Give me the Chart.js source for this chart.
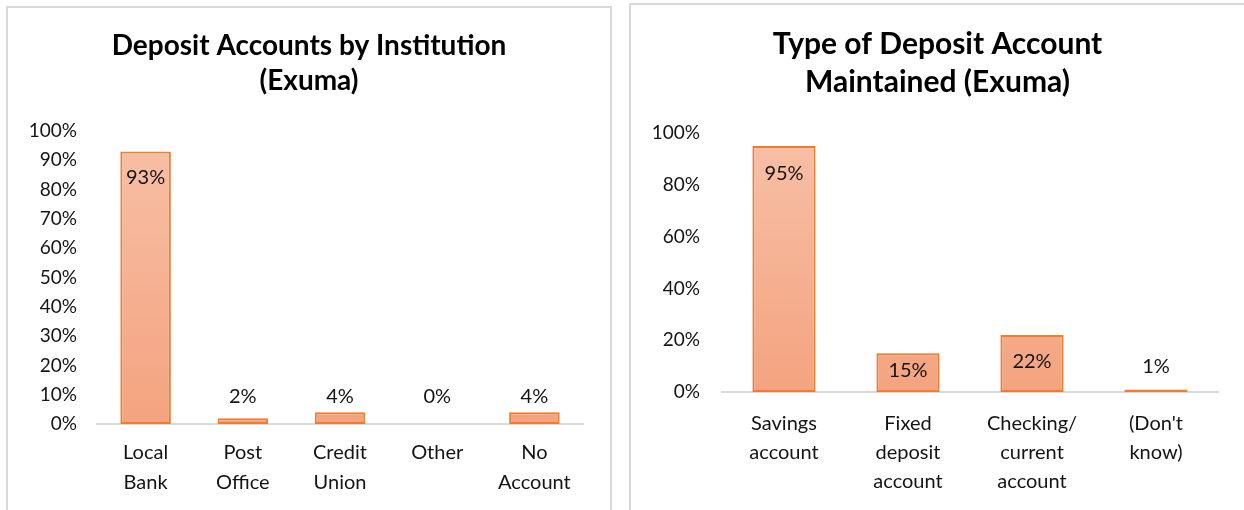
<!DOCTYPE html>
<html>
<head>
<meta charset="utf-8">
<script src="https://cdn.jsdelivr.net/npm/chart.js@4.4.1/dist/chart.umd.min.js"></script>
<style>
  body { margin: 0; background: #fff; width: 1244px; height: 510px; overflow: hidden; position: relative; }
  .panel { position: absolute; border: 2px solid #d9d9d9; box-sizing: border-box; background: #fff; }
  #panel1 { left: 6px; top: 6px; width: 606px; height: 520px; }
  #panel2 { left: 629px; top: 3px; width: 630px; height: 520px; }
  canvas { display: block; }
</style>
</head>
<body>
<div class="panel" id="panel1"><canvas id="institution-chart" width="602" height="502"></canvas></div>
<div class="panel" id="panel2"><canvas id="type-chart" width="613" height="505"></canvas></div>
<script>
const institutionLabels = [["Local", "Bank"], ["Post", "Office"], ["Credit", "Union"], ["Other"], ["No", "Account"]];
const institutionValues = [0.93, 0.02, 0.04, 0.00, 0.04];
const institutionTicks = [0, 0.1, 0.2, 0.3, 0.4, 0.5, 0.6, 0.7, 0.8, 0.9, 1.0];

const typeLabels = [["Savings", "account"], ["Fixed", "deposit", "account"], ["Checking/", "current", "account"], ["(Don't", "know)"]];
const typeValues = [0.95, 0.15, 0.22, 0.01];
const typeTicks = [0, 0.2, 0.4, 0.6, 0.8, 1.0];

const FONT = "Lato, 'Open Sans', sans-serif";
const TEXT = "#141414";

// draws the value labels the way Excel placed them
const barLabels = {
  id: "barLabels",
  afterDatasetsDraw(chart, args, opts) {
    const ctx = chart.ctx;
    const meta = chart.getDatasetMeta(0);
    const values = chart.data.datasets[0].data;
    ctx.save();
    ctx.font = `${opts.size}px ${FONT}`;
    ctx.fillStyle = TEXT;
    ctx.textAlign = "center";
    ctx.textBaseline = "middle";
    meta.data.forEach((bar, i) => {
      const v = values[i];
      let y;
      if (v >= 0.1) {
        y = Math.min(bar.y + opts.inside, (bar.y + bar.base) / 2 - 2);
      } else {
        y = Math.min(bar.y - 15, bar.base - opts.outside);
      }
      ctx.fillText(Math.round(v * 100) + "%", bar.x, y);
    });
    ctx.restore();
  },
};

function barFill(context) {
  const area = context.chart.chartArea;
  if (!area) return "#f5b090";
  const g = context.chart.ctx.createLinearGradient(0, area.top, 0, area.bottom);
  g.addColorStop(0, "#f7c0a7");
  g.addColorStop(1, "#f4a37f");
  return g;
}

function makeChart(id, cfg) {
  return new Chart(document.getElementById(id), {
    type: "bar",
    data: {
      labels: cfg.labels,
      datasets: [{
        data: cfg.values,
        backgroundColor: barFill,
        borderColor: "#ed7d31",
        borderWidth: 2,
        borderSkipped: false,
        barPercentage: cfg.barPct,
        categoryPercentage: 1,
      }],
    },
    options: {
      responsive: false,
      animation: false,
      // same padding both sides so the title centres on the panel
      layout: { padding: { left: cfg.side, right: cfg.side, top: 0, bottom: 0 } },
      plugins: {
        legend: { display: false },
        tooltip: { enabled: false },
        title: {
          display: true,
          text: cfg.title,
          color: "#000",
          font: { family: FONT, size: cfg.titleSize, weight: "bold", lineHeight: cfg.titleLine / cfg.titleSize },
          padding: { top: cfg.titleTop, bottom: cfg.titleBottom },
        },
        barLabels: { size: 20, inside: cfg.inside, outside: cfg.outside },
      },
      scales: {
        y: {
          min: 0,
          max: 1,
          afterBuildTicks: (scale) => { scale.ticks = cfg.ticks.map((v) => ({ value: v })); },
          afterFit: (scale) => { scale.width = cfg.yWidth; },
          grid: { display: false },
          border: { display: false },
          ticks: {
            padding: cfg.yPad,
            color: TEXT,
            font: { family: FONT, size: 19 },
            callback: (v) => Math.round(v * 100) + "%",
          },
        },
        // empty right-hand gutter, keeps the plot off the right edge
        gutter: {
          type: "linear",
          position: "right",
          afterFit: (scale) => { scale.width = cfg.gutter; },
          grid: { display: false },
          border: { display: false },
          ticks: { display: false },
        },
        x: {
          afterFit: (scale) => { scale.height = cfg.xHeight; },
          grid: { display: false },
          border: { display: true, color: "#d9d9d9", width: 2 },
          ticks: {
            padding: cfg.xPad,
            color: TEXT,
            maxRotation: 0,
            autoSkip: false,
            font: { family: FONT, size: 20, lineHeight: cfg.xLine / 20 },
          },
        },
      },
    },
    plugins: [barLabels],
  });
}

makeChart("institution-chart", {
  labels: institutionLabels,
  values: institutionValues,
  ticks: institutionTicks,
  title: ["Deposit Accounts by Institution", "(Exuma)"],
  titleSize: 28, titleLine: 35, titleTop: 20, titleBottom: 33,
  side: 14, yWidth: 75, yPad: 12, gutter: 13, xHeight: 86, xPad: 6, xLine: 30,
  barPct: 0.52, inside: 26, outside: 27,
});

makeChart("type-chart", {
  labels: typeLabels,
  values: typeValues,
  ticks: typeTicks,
  title: ["Type of Deposit Account", "Maintained (Exuma)"],
  titleSize: 30, titleLine: 38, titleTop: 20, titleBottom: 32,
  side: 14, yWidth: 77, yPad: 14, gutter: 12, xHeight: 118, xPad: 9, xLine: 29,
  barPct: 0.51, inside: 28, outside: 25,
});
</script>
</body>
</html>
